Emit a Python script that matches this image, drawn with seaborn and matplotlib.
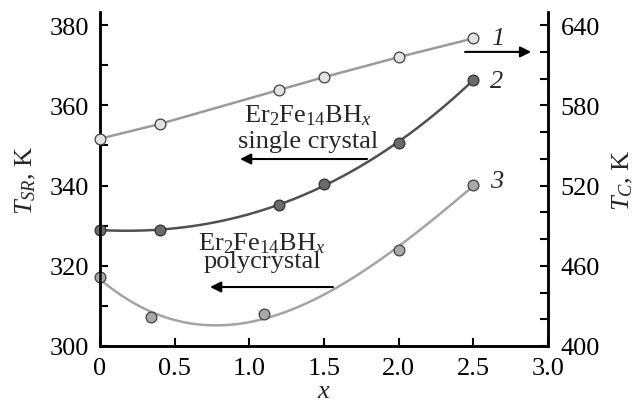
import numpy as np
import pandas as pd
import matplotlib
matplotlib.use("Agg")
import matplotlib.pyplot as plt
import seaborn as sns
from matplotlib.ticker import MultipleLocator, FixedLocator

# ---- data ----
x1 = [0.0, 0.4, 1.2, 1.5, 2.0, 2.5]
tc1 = [555.0, 566.0, 591.5, 601.0, 616.0, 630.0]          # curve 1, T_C (right axis)
x2 = [0.0, 0.4, 1.2, 1.5, 2.0, 2.5]
tsr2 = [329.0, 328.8, 335.2, 340.4, 350.5, 366.4]         # curve 2, T_SR single crystal
x3 = [0.0, 0.34, 1.1, 2.0, 2.5]
tsr3 = [317.3, 307.2, 308.0, 324.0, 340.2]                # curve 3, T_SR polycrystal
xticks = [0, 0.5, 1.0, 1.5, 2.0, 2.5, 3.0]
xticklabels = ["0", "0.5", "1.0", "1.5", "2.0", "2.5", "3.0"]
tc_ticks = [400, 460, 520, 580, 640]
tc_minor = [420, 440, 480, 500, 540, 560, 600, 620]

sns.set_theme(style="ticks")
plt.rcParams["font.family"] = ["Liberation Serif", "DejaVu Serif"]
plt.rcParams["mathtext.fontset"] = "custom"
plt.rcParams["mathtext.rm"] = "Liberation Serif"
plt.rcParams["mathtext.it"] = "Liberation Serif:italic"
plt.rcParams["mathtext.bf"] = "Liberation Serif:bold"

FS = 19
fig = plt.figure(figsize=(6.36, 4.06), dpi=100)
ax = fig.add_axes([100/636, 1-347/406, 448/636, 334/406])
ax2 = ax.twinx()

c1_line, c1_face = "#9a9a9a", "#e2e2e2"
c2_line, c2_face = "#505050", "#6a6a6a"
c3_line, c3_face = "#a4a4a4", "#a8a8a8"

# smooth fitted curves
xs2 = np.linspace(0, 2.5, 200)
p2 = np.polyfit(x2, tsr2, 3)
xs3 = np.linspace(0, 2.5, 200)
p3 = np.polyfit(x3, tsr3, 3)

df1 = pd.DataFrame({"x": x1, "y": tc1})
df2 = pd.DataFrame({"x": x2, "y": tsr2})
df3 = pd.DataFrame({"x": x3, "y": tsr3})

sns.lineplot(x=xs2, y=np.polyval(p2, xs2), ax=ax, color=c2_line, lw=1.8, zorder=2)
sns.lineplot(x=xs3, y=np.polyval(p3, xs3), ax=ax, color=c3_line, lw=1.8, zorder=2)
sns.scatterplot(data=df2, x="x", y="y", ax=ax, color=c2_face, edgecolor="#303030",
                linewidth=0.9, s=60, zorder=3, clip_on=False)
sns.scatterplot(data=df3, x="x", y="y", ax=ax, color=c3_face, edgecolor="#404040",
                linewidth=0.9, s=60, zorder=3, clip_on=False)

sns.lineplot(data=df1, x="x", y="y", ax=ax2, color=c1_line, lw=1.8, zorder=2)
sns.scatterplot(data=df1, x="x", y="y", ax=ax2, color=c1_face, edgecolor="#404040",
                linewidth=0.9, s=60, zorder=3, clip_on=False)

ax.set_xlim(0, 3.0)
ax.set_ylim(300, 380 + 13/4.01)
ax2.set_ylim(400, 640 + 3*13/4.01)

ax.set_xticks(xticks)
ax.set_xticklabels(xticklabels)
ax.yaxis.set_major_locator(MultipleLocator(20))
ax.yaxis.set_minor_locator(MultipleLocator(10))
ax2.yaxis.set_major_locator(FixedLocator(tc_ticks))
ax2.yaxis.set_minor_locator(FixedLocator(tc_minor))

for a in (ax, ax2):
    for s in a.spines.values():
        s.set_linewidth(1.8)
        s.set_color("black")
    a.spines["top"].set_visible(False)
    a.tick_params(which="both", direction="in", width=1.5, length=6,
                  labelsize=FS, colors="black", pad=8)
    a.set_xlabel("")
    a.set_ylabel("")
ax.tick_params(axis="x", pad=8)
ax.tick_params(axis="y", which="both", right=False)
ax2.tick_params(axis="y", which="both", left=False, right=True, pad=9)

ax.set_xlabel(r"$x$", fontsize=FS, labelpad=1)
ax.set_ylabel(r"$T_{SR}$, K", fontsize=FS, labelpad=8)
ax2.set_ylabel(r"$T_C$, K", fontsize=FS, labelpad=8)

# annotations
ax.text(1.393, 355.9, r"Er$_2$Fe$_{14}$BH$_x$", fontsize=FS, ha="center", va="baseline")
ax.text(1.393, 349.6, "single crystal", fontsize=FS, ha="center", va="baseline")
ax.annotate("", xy=(0.938, 346.6), xytext=(1.788, 346.6),
            arrowprops=dict(arrowstyle="-|>", color="black", lw=1.5,
                            mutation_scale=16, shrinkA=0, shrinkB=0))
ax.text(1.085, 324.1, r"Er$_2$Fe$_{14}$BH$_x$", fontsize=FS, ha="center", va="baseline")
ax.text(1.085, 319.7, "polycrystal", fontsize=FS, ha="center", va="baseline")
ax.annotate("", xy=(0.737, 314.7), xytext=(1.56, 314.7),
            arrowprops=dict(arrowstyle="-|>", color="black", lw=1.5,
                            mutation_scale=16, shrinkA=0, shrinkB=0))

ax.text(2.666, 376.8, "1", fontsize=FS, style="italic", ha="center", va="center")
ax.annotate("", xy=(2.887, 373.3), xytext=(2.445, 373.3),
            arrowprops=dict(arrowstyle="-|>", color="black", lw=1.5,
                            mutation_scale=16, shrinkA=0, shrinkB=0))
ax.text(2.659, 366.1, "2", fontsize=FS, style="italic", ha="center", va="center")
ax.text(2.659, 341.1, "3", fontsize=FS, style="italic", ha="center", va="center")

fig.savefig("out.png", dpi=100)
